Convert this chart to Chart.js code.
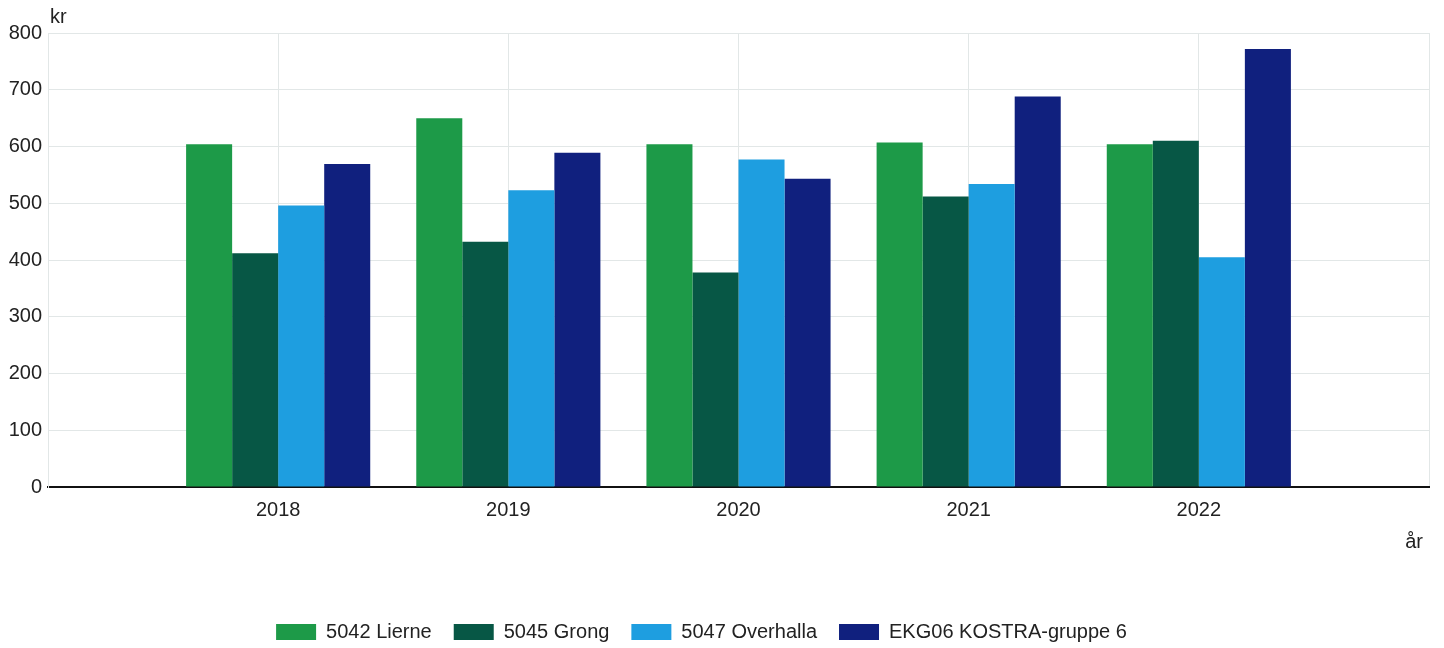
<!DOCTYPE html>
<html lang="no">
<head>
<meta charset="utf-8">
<script src="https://cdn.jsdelivr.net/npm/chart.js@4.4.0/dist/chart.umd.min.js"></script>
<style>
  html, body { margin: 0; padding: 0; background: #fff; overflow: hidden; }
  #wrap { width: 1444px; height: 648px; overflow: hidden; }
</style>
</head>
<body>
<div id="wrap"><canvas id="chart" width="1444" height="652"></canvas></div>
<script>
// Kategorier (tomme plasser i hver ende gir luft rundt gruppene)
const aar = ['', '2018', '2019', '2020', '2021', '2022', ''];

// Verdier i kr per år
const lierne    = [null, 604, 650, 604, 607, 604, null];
const grong     = [null, 412, 432, 378, 512, 610, null];
const overhalla = [null, 496, 523, 577, 534, 405, null];
const kostra6   = [null, 569, 589, 543, 688, 772, null];

const yTicks = [0, 100, 200, 300, 400, 500, 600, 700, 800];

const fontFamily = '"Liberation Sans", Arial, sans-serif';
const textColor = '#222';
const gridColor = '#e2e7e7';

// Aksetitler "kr" og "år"
const akseTitler = {
  id: 'akseTitler',
  afterLayout(chart) {
    // flytt forklaringen litt mot venstre
    chart.legend.left -= 13;
    chart.legend.right -= 13;
  },
  afterDraw(chart) {
    const ctx = chart.ctx;
    const area = chart.chartArea;
    ctx.save();
    ctx.fillStyle = textColor;
    ctx.font = '20px ' + fontFamily;
    ctx.textBaseline = 'middle';
    ctx.textAlign = 'left';
    ctx.fillText('kr', area.left + 2, 17);
    ctx.textAlign = 'right';
    ctx.fillText('år', area.right - 6, 542);
    ctx.restore();
  }
};

const ctx = document.getElementById('chart').getContext('2d');
new Chart(ctx, {
  type: 'bar',
  data: {
    labels: aar,
    datasets: [
      { label: '5042 Lierne', data: lierne, backgroundColor: '#1d9a48' },
      { label: '5045 Grong', data: grong, backgroundColor: '#075745' },
      { label: '5047 Overhalla', data: overhalla, backgroundColor: '#1e9ee0' },
      { label: 'EKG06 KOSTRA-gruppe 6', data: kostra6, backgroundColor: '#10207e' }
    ]
  },
  options: {
    responsive: false,
    animation: false,
    devicePixelRatio: 1,
    categoryPercentage: 0.8,
    barPercentage: 1.0,
    layout: { padding: { top: 33, right: 15, left: 0, bottom: 0 } },
    scales: {
      x: {
        offset: false,
        grid: { color: gridColor, offset: false, drawTicks: false },
        border: { color: '#111', width: 2 },
        ticks: {
          color: textColor,
          font: { family: fontFamily, size: 20 },
          padding: 11,
          maxRotation: 0,
          autoSkip: false
        },
        afterFit(scale) { scale.height = 113; }
      },
      y: {
        min: 0,
        max: 800,
        afterBuildTicks(scale) { scale.ticks = yTicks.map(v => ({ value: v })); },
        grid: { color: gridColor, drawTicks: false },
        border: { color: gridColor },
        ticks: {
          color: textColor,
          font: { family: fontFamily, size: 20 },
          padding: 6
        },
        afterFit(scale) { scale.width = 48; }
      }
    },
    plugins: {
      legend: {
        position: 'bottom',
        labels: {
          boxWidth: 40,
          boxHeight: 16,
          padding: 22,
          color: textColor,
          font: { family: fontFamily, size: 20 }
        }
      },
      tooltip: { enabled: false }
    }
  },
  plugins: [akseTitler]
});
</script>
</body>
</html>
